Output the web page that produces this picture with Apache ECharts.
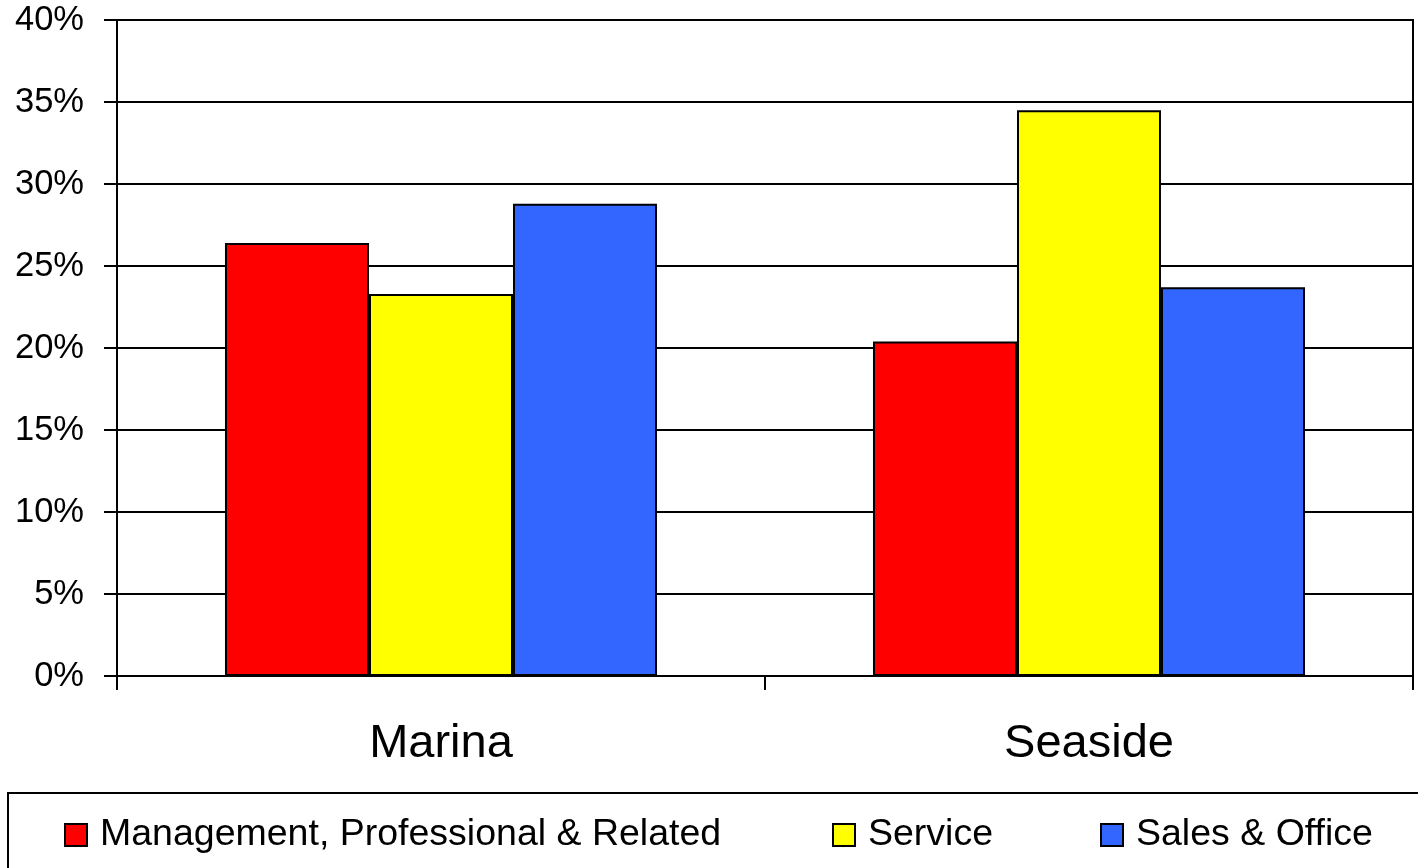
<!DOCTYPE html>
<html>
<head>
<meta charset="utf-8">
<script src="https://cdn.jsdelivr.net/npm/echarts@6/dist/echarts.min.js"></script>
<style>
  html, body { margin: 0; padding: 0; background: #fff; }
  #main { width: 1418px; height: 868px; }
</style>
</head>
<body>
<div id="main"></div>
<script>
// 数据
const categories = ['Marina', 'Seaside'];
const seriesNames = ['Management, Professional & Related', 'Service', 'Sales & Office'];
const management = [26.4, 20.4];
const service = [23.3, 34.5];
const salesOffice = [28.8, 23.7];
const colors = ['#FF0000', '#FFFF00', '#3366FF'];

const FONT = 'Liberation Sans, Arial, sans-serif';
const myChart = echarts.init(document.getElementById('main'));

// 图例（分开放置）
const legendLefts = [64, 832, 1100];
const legends = seriesNames.map((name, i) => ({
  data: [name],
  left: legendLefts[i],
  top: 816,
  icon: 'rect',
  itemWidth: 22,
  itemHeight: 22,
  padding: 0,
  itemStyle: { borderColor: '#000', borderWidth: 2 },
  textStyle: {
    color: '#000',
    fontFamily: FONT,
    fontSize: 37.5,
    lineHeight: 38,
    padding: [0, 0, 0, 8],
  },
}));

const seriesData = [management, service, salesOffice];

myChart.setOption({
  animation: false,
  color: colors,
  legend: legends,
  graphic: [
    {
      type: 'rect',
      shape: { x: 8, y: 793, width: 1420, height: 100 },
      style: { fill: 'none', stroke: '#000', lineWidth: 2 },
    },
  ],
  grid: {
    left: 117,
    right: 5,
    top: 20,
    bottom: 192,
    show: true,
    borderColor: '#000',
    borderWidth: 2,
  },
  xAxis: {
    type: 'category',
    data: categories,
    axisLine: { lineStyle: { color: '#000', width: 2 } },
    axisTick: { show: true, length: 14, lineStyle: { color: '#000', width: 2 } },
    axisLabel: {
      color: '#000',
      fontFamily: FONT,
      fontSize: 47,
      margin: 45,
    },
  },
  yAxis: {
    type: 'value',
    min: 0,
    max: 40,
    interval: 5,
    axisLine: { show: true, lineStyle: { color: '#000', width: 2 } },
    axisTick: { show: true, length: 13, lineStyle: { color: '#000', width: 2 } },
    splitLine: { lineStyle: { color: '#000', width: 2 } },
    axisLabel: {
      formatter: '{value}%',
      color: '#000',
      fontFamily: FONT,
      fontSize: 34.5,
      margin: 33,
      padding: [3, 0, 0, 0],
    },
  },
  series: seriesNames.map((name, i) => ({
    name: name,
    type: 'bar',
    data: seriesData[i],
    barGap: '0%',
    barCategoryGap: '33.33%',
    itemStyle: { color: colors[i], borderColor: '#000', borderWidth: 2 },
  })),
});
</script>
</body>
</html>
